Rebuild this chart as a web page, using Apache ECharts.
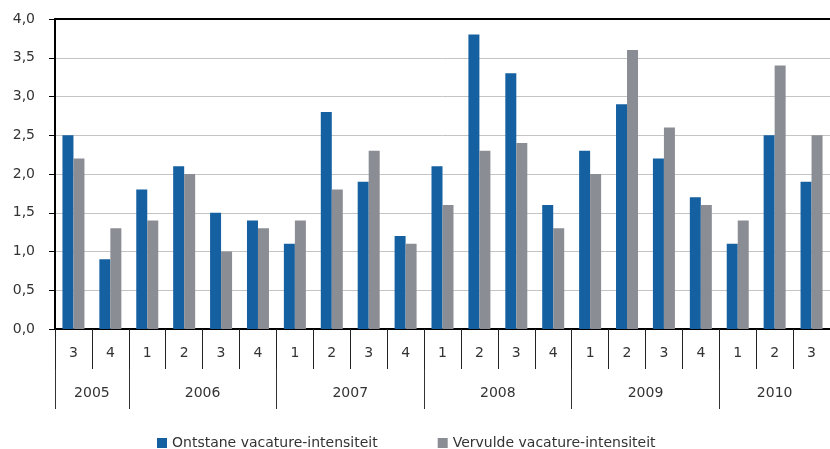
<!DOCTYPE html>
<html style="height: 100%">
<head>
<meta charset="UTF-8">
<title>Vacature-intensiteit</title>
<script src="https://cdn.jsdelivr.net/npm/echarts@6/dist/echarts.min.js"></script>
</head>
<body style="height: 100%;margin: 0;background:#fff">
<div id="chart" style="width:830px;height:449px"></div>
<script type="text/javascript">
// quarters, per year
var quarters = ['3','4','1','2','3','4','1','2','3','4','1','2','3','4','1','2','3','4','1','2','3'];
var years = ['2005','2006','2007','2008','2009','2010'];
var yearQuarterCounts = [2,4,4,4,4,3];

var ontstane = [2.5,0.9,1.8,2.1,1.5,1.4,1.1,2.8,1.9,1.2,2.1,3.8,3.3,1.6,2.3,2.9,2.2,1.7,1.1,2.5,1.9];
var vervulde = [2.2,1.3,1.4,2.0,1.0,1.3,1.4,1.8,2.3,1.1,1.6,2.3,2.4,1.3,2.0,3.6,2.6,1.6,1.4,3.4,2.5];

// year axis uses half-quarter steps so group borders and centres fall on points
var halfSteps = [];
for (var i = 0; i <= quarters.length*2; i++) halfSteps.push('');
var yearLabelAt = {};
var yearBorderAt = {0: true};
var pos = 0;
for (var k = 0; k < years.length; k++) {
	yearLabelAt[pos + yearQuarterCounts[k]] = years[k];
	pos += yearQuarterCounts[k]*2;
	yearBorderAt[pos] = true;
}
// quarter borders on the same half-step axis
var quarterBorderAt = {};
for (var q = 0; q <= quarters.length; q++) quarterBorderAt[q*2] = true;

var font = 'DejaVu Sans';
var txt = '#333';

var myChart = echarts.init(document.getElementById('chart'));
var option = {
	animation: false,
	textStyle: {fontFamily: font},
	grid: {left: 55, top: 19, width: 778, height: 310},
	legend: {
		top: 436,
		left: 157,
		padding: 0,
		itemGap: 60,
		itemWidth: 10,
		itemHeight: 10,
		icon: 'rect',
		textStyle: {fontFamily: font, fontSize: 14, color: txt},
		data: ['Ontstane vacature-intensiteit', 'Vervulde vacature-intensiteit']
	},
	xAxis: [{
		type: 'category',
		position: 'bottom',
		data: quarters,
		axisLine: {lineStyle: {color: '#000', width: 2}},
		axisTick: {show: false},
		axisLabel: {margin: 17, interval: 0, fontSize: 14, color: txt, fontFamily: font},
		splitLine: {show: false}
	}, {
		type: 'category',
		position: 'bottom',
		boundaryGap: false,
		data: halfSteps,
		axisLine: {show: false},
		axisTick: {
			show: true,
			length: 80,
			interval: function (idx) { return !!yearBorderAt[idx]; },
			lineStyle: {color: '#333', width: 1}
		},
		axisLabel: {
			margin: 57,
			fontSize: 14,
			color: txt,
			fontFamily: font,
			interval: function (idx) { return yearLabelAt[idx] !== undefined; },
			formatter: function (v, idx) { return yearLabelAt[idx] || ''; }
		},
		splitLine: {show: false}
	}, {
		type: 'category',
		position: 'bottom',
		boundaryGap: false,
		data: halfSteps,
		axisLine: {show: false},
		axisTick: {
			show: true,
			length: 40,
			interval: function (idx) { return !!quarterBorderAt[idx]; },
			lineStyle: {color: '#222', width: 1}
		},
		axisLabel: {show: false},
		splitLine: {show: false}
	}, {
		type: 'category',
		position: 'top',
		data: quarters,
		axisLine: {lineStyle: {color: '#000', width: 2}},
		axisTick: {show: false},
		axisLabel: {show: false}
	}],
	yAxis: {
		type: 'value',
		min: 0,
		max: 4,
		interval: 0.5,
		axisLine: {show: true, lineStyle: {color: '#000', width: 2}},
		axisTick: {show: true, length: 6, lineStyle: {color: '#000'}},
		axisLabel: {
			margin: 20,
			fontSize: 14,
			color: txt,
			fontFamily: font,
			formatter: function (v) { return v.toFixed(1).replace('.', ','); }
		},
		splitLine: {lineStyle: {color: '#c4c4c4', width: 1}}
	},
	series: [{
		name: 'Ontstane vacature-intensiteit',
		type: 'bar',
		xAxisIndex: 0,
		data: ontstane,
		barWidth: 11,
		barGap: '0%',
		itemStyle: {color: '#1560a1'}
	}, {
		name: 'Vervulde vacature-intensiteit',
		type: 'bar',
		xAxisIndex: 0,
		data: vervulde,
		barWidth: 11,
		barGap: '0%',
		itemStyle: {color: '#8a8d93'}
	}]
};
myChart.setOption(option);
</script>
</body>
</html>
